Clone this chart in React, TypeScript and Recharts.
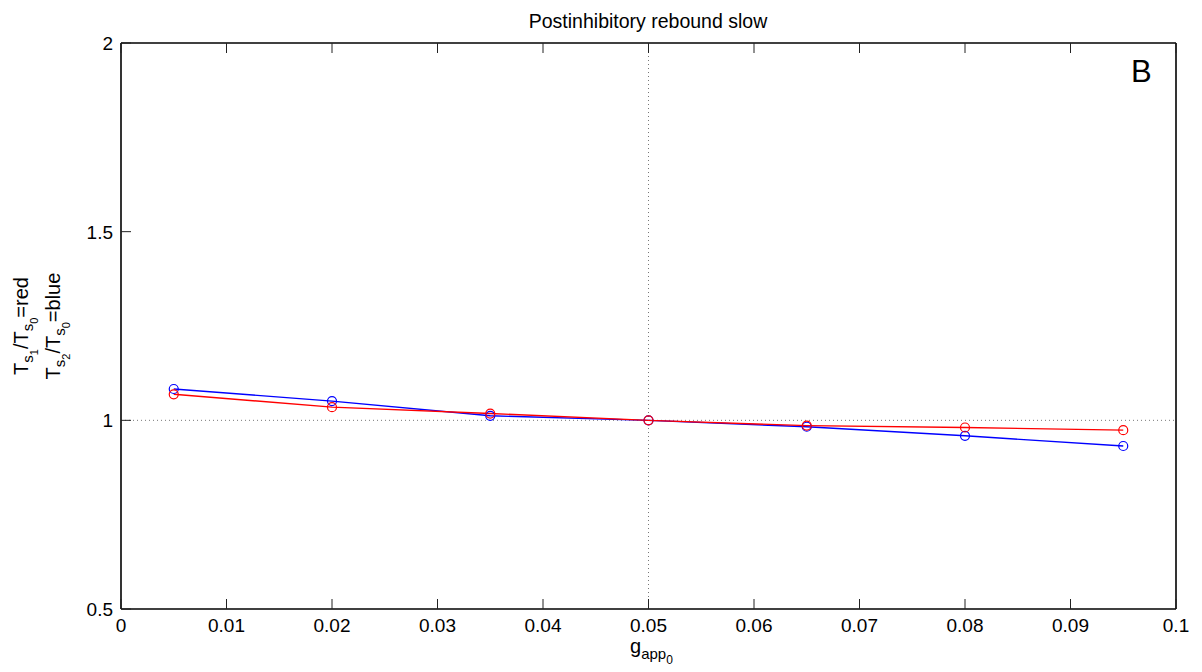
import { LineChart, Line, XAxis, YAxis, ReferenceLine } from 'recharts';

const W = 1202;
const H = 672;
const FONT = '"Liberation Sans", Arial, Helvetica, sans-serif';

// x positions (g_app_0) and the two ratio series
const gValues = [0.005, 0.02, 0.035, 0.05, 0.065, 0.08, 0.095];
const redRatio = [1.069, 1.035, 1.018, 1.0, 0.986, 0.981, 0.974];
const blueRatio = [1.083, 1.051, 1.012, 1.0, 0.983, 0.959, 0.932];

const xTicks = [0, 0.01, 0.02, 0.03, 0.04, 0.05, 0.06, 0.07, 0.08, 0.09, 0.1];
const yTicks = [0.5, 1, 1.5, 2];

const data = gValues.map((x, i) => ({ x, red: redRatio[i], blue: blueRatio[i] }));

const TICK_LEN = 10;

const BottomTick = ({ x, y, payload }: any) => (
  <g>
    <line x1={x} x2={x} y1={y} y2={y - TICK_LEN} stroke="#222" strokeWidth={1} />
    <text x={x} y={y + 23} textAnchor="middle" fontSize={19} fontFamily={FONT} fill="#000">
      {String(payload.value)}
    </text>
  </g>
);

const TopTick = ({ x, y }: any) => (
  <line x1={x} x2={x} y1={y} y2={y + TICK_LEN} stroke="#222" strokeWidth={1} />
);

const LeftTick = ({ x, y, payload }: any) => (
  <g>
    <line x1={x} x2={x + TICK_LEN} y1={y} y2={y} stroke="#222" strokeWidth={1} />
    <text x={x - 8} y={y + 7} textAnchor="end" fontSize={19} fontFamily={FONT} fill="#000">
      {String(payload.value)}
    </text>
  </g>
);

const RightTick = ({ x, y }: any) => (
  <line x1={x} x2={x - TICK_LEN} y1={y} y2={y} stroke="#222" strokeWidth={1} />
);

const axisLine = { stroke: '#000', strokeWidth: 1.6 };

export default function App() {
  return (
    <div style={{ position: 'absolute', left: 0, top: 0, width: W, height: H, background: '#fff' }}>
      <LineChart
        width={W}
        height={H}
        data={data}
        margin={{ top: 42, right: 25, bottom: 62, left: 120 }}
      >
        <XAxis
          dataKey="x"
          type="number"
          domain={[0, 0.1]}
          ticks={xTicks}
          height={1}
          tickSize={0}
          tickMargin={0}
          tickLine={false}
          axisLine={axisLine}
          tick={<BottomTick />}
          interval={0}
        />
        <XAxis
          xAxisId="top"
          orientation="top"
          dataKey="x"
          type="number"
          domain={[0, 0.1]}
          ticks={xTicks}
          height={1}
          tickSize={0}
          tickMargin={0}
          tickLine={false}
          axisLine={axisLine}
          tick={<TopTick />}
          interval={0}
        />
        <YAxis
          type="number"
          domain={[0.5, 2]}
          ticks={yTicks}
          width={1}
          tickSize={0}
          tickMargin={0}
          tickLine={false}
          axisLine={axisLine}
          tick={<LeftTick />}
          interval={0}
        />
        <YAxis
          yAxisId="right"
          orientation="right"
          type="number"
          domain={[0.5, 2]}
          ticks={yTicks}
          width={1}
          tickSize={0}
          tickMargin={0}
          tickLine={false}
          axisLine={axisLine}
          tick={<RightTick />}
          interval={0}
        />
        <ReferenceLine x={0.05} stroke="#777" strokeDasharray="1 3" strokeWidth={1} />
        <ReferenceLine y={1} stroke="#777" strokeDasharray="1 3" strokeWidth={1} />
        <Line
          dataKey="blue"
          stroke="#0000ff"
          strokeWidth={1.4}
          dot={{ r: 4.5, fill: 'none', stroke: '#0000ff', strokeWidth: 1.2 }}
          isAnimationActive={false}
        />
        <Line
          dataKey="red"
          stroke="#ff0000"
          strokeWidth={1.4}
          dot={{ r: 4.5, fill: 'none', stroke: '#ff0000', strokeWidth: 1.2 }}
          isAnimationActive={false}
        />
      </LineChart>
      <svg
        width={W}
        height={H}
        style={{ position: 'absolute', left: 0, top: 0, pointerEvents: 'none' }}
        fontFamily={FONT}
      >
        <text x={648} y={28} textAnchor="middle" fontSize={19.5}>
          Postinhibitory rebound slow
        </text>
        <text x={1131} y={82} fontSize={31}>
          B
        </text>
        <text x={630} y={653} fontSize={20}>
          g
          <tspan dy={6} fontSize={15}>app</tspan>
          <tspan dy={5} fontSize={12}>0</tspan>
        </text>
        <g transform="translate(28,326) rotate(-90)">
          <text x={0} y={0} textAnchor="middle" fontSize={20}>
            T
            <tspan dy={5} fontSize={15}>s</tspan>
            <tspan dy={5} fontSize={11}>1</tspan>
            <tspan dy={-10}>/T</tspan>
            <tspan dy={5} fontSize={15}>s</tspan>
            <tspan dy={5} fontSize={11}>0</tspan>
            <tspan dy={-10}>=red</tspan>
          </text>
        </g>
        <g transform="translate(60,326) rotate(-90)">
          <text x={0} y={0} textAnchor="middle" fontSize={20}>
            T
            <tspan dy={5} fontSize={15}>s</tspan>
            <tspan dy={5} fontSize={11}>2</tspan>
            <tspan dy={-10}>/T</tspan>
            <tspan dy={5} fontSize={15}>s</tspan>
            <tspan dy={5} fontSize={11}>0</tspan>
            <tspan dy={-10}>=blue</tspan>
          </text>
        </g>
      </svg>
    </div>
  );
}
